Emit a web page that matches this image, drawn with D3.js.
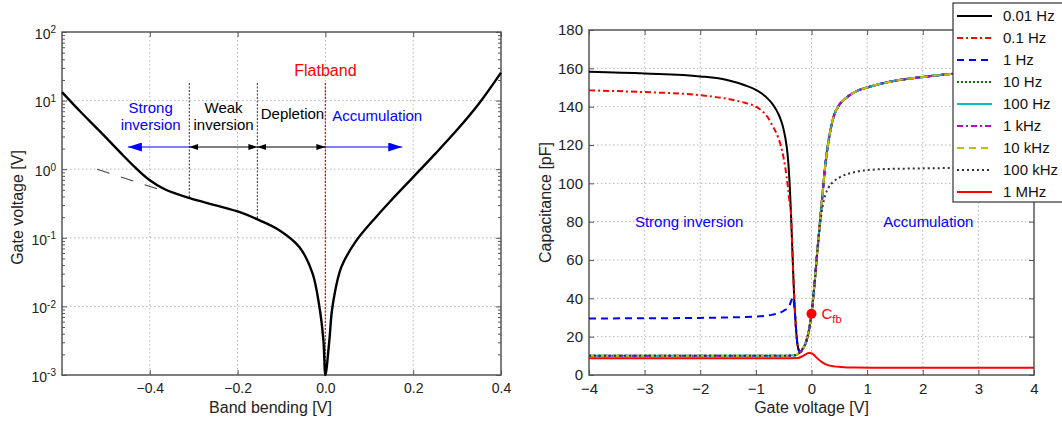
<!DOCTYPE html>
<html>
<head>
<meta charset="utf-8">
<script src="https://cdn.jsdelivr.net/npm/d3@7"></script>
<style>
  html, body { margin: 0; padding: 0; background: #fff; }
  svg { display: block; font-family: "Liberation Sans", Arial, sans-serif; }
</style>
</head>
<body>
<svg id="chart" width="1062" height="423"></svg>
<script>
// ─── LEFT PANEL : gate voltage vs band bending ────────────────────────────────
const bendPsi  = [-0.6, -0.559, -0.514, -0.468, -0.434, -0.4, -0.366, -0.309, -0.252, -0.195, -0.15, -0.105, -0.059, -0.0295, -0.0136, -0.0045, 0,
                  0.009, 0.016, 0.036, 0.07, 0.116, 0.15, 0.2, 0.25, 0.3, 0.35, 0.4];
const bendGate = [13.3, 7.0, 3.58, 1.77, 1.07, 0.69, 0.51, 0.378, 0.30, 0.236, 0.18, 0.129, 0.073, 0.0305, 0.0098, 0.0032, 0.001,
                  0.0032, 0.0098, 0.037, 0.09, 0.203, 0.353, 0.767, 1.67, 3.75, 9.1, 25.6];
const asymPsi  = [-0.52, -0.38];
const asymGate = [1.0, 0.51];
const leftXTicks = [-0.4, -0.2, 0, 0.2, 0.4];
const leftYTicks = [1e-3, 1e-2, 1e-1, 1e0, 1e1, 1e2];
const regionMarks = [-0.31, -0.155, 0];   // weak inv. start, depletion start, flatband

// ─── RIGHT PANEL : C-V curves ────────────────────────────────────────────────
const accV = [-0.15, -0.1, 0, 0.05, 0.1, 0.15, 0.2, 0.25, 0.3, 0.35, 0.4, 0.5, 0.6, 0.8, 1.0, 1.5, 2, 2.5, 3, 4];
const accC = [14, 17, 32, 46, 63, 79, 95, 110, 121, 129, 135, 141, 144, 148, 150, 153.5, 155.5, 157, 157.8, 158.8];

const v001  = [-4, -3, -2, -1.5, -1.2, -1, -0.9, -0.8, -0.7, -0.6, -0.55, -0.5, -0.45, -0.42, -0.39, -0.37, -0.35, -0.33, -0.31, -0.29, -0.27, -0.25, -0.22, -0.2];
const c001  = [158.2, 157.3, 155.8, 153.8, 151.2, 148.8, 147, 144.6, 141.3, 136.5, 133, 128, 120, 112, 98, 85, 70, 54, 40, 29, 21, 15.5, 12.5, 12];
const v01   = [-4, -3, -2, -1.5, -1.2, -1, -0.9, -0.8, -0.7, -0.6, -0.55, -0.5, -0.45, -0.42, -0.39, -0.37, -0.35, -0.33, -0.31, -0.29, -0.27, -0.25, -0.22, -0.2];
const c01   = [148.5, 147.6, 146, 144, 142, 140, 138, 135, 130, 124, 119.5, 113, 104, 97, 89, 85, 70, 54, 40, 29, 21, 15.5, 12.5, 12];
const v1    = [-4, -3, -2, -1, -0.7, -0.5, -0.4, -0.36, -0.33, -0.31, -0.29, -0.27, -0.25, -0.22, -0.2];
const c1    = [29.5, 29.6, 29.8, 30.5, 31.5, 33.5, 36, 39, 40.5, 36, 29, 21, 15.5, 12.5, 12];
const vHigh = [-4, -2, -0.5, -0.3, -0.22];
const cHigh = [10, 10, 10, 10.3, 11.5];
const v100k = [-4, -2, -0.5, -0.3, -0.22, -0.15, -0.1, 0, 0.05, 0.1, 0.15, 0.2, 0.25, 0.3, 0.4, 0.5, 0.8, 1.2, 2, 2.5, 3, 4];
const c100k = [10, 10, 10, 10.3, 11.5, 14, 17, 32, 46, 63, 78, 88, 94, 97.5, 101, 103, 106, 107.3, 107.8, 108, 108.3, 108.5];
const v1M   = [-4, -2, -0.5, -0.25, -0.15, -0.05, 0, 0.05, 0.1, 0.2, 0.28, 0.4, 0.52, 0.8, 1.5, 4];
const c1M   = [8.8, 8.8, 8.8, 8.9, 10, 11.5, 11.4, 10.3, 8.8, 6.5, 5.3, 4.5, 4.2, 3.9, 3.8, 3.8];

const freqLabels = ["0.01 Hz", "0.1 Hz", "1 Hz", "10 Hz", "100 Hz", "1 kHz", "10 kHz", "100 kHz", "1 MHz"];
const freqColors = ["#000000", "#ff0000", "#0000ff", "#008000", "#00bfbf", "#bf00bf", "#bfbf00", "#333333", "#ff0000"];
const freqDashes = [null, "6,3,2,3", "7,5", "2,2", null, "6,3,2,3", "7,5", "2,3", null];
const rightXTicks = [-4, -3, -2, -1, 0, 1, 2, 3, 4];
const rightYTicks = [0, 20, 40, 60, 80, 100, 120, 140, 160, 180];
const cfbPoint = [0, 32];

// helpers
const zip = (xs, ys) => xs.map((x, i) => [x, ys[i]]);
const withAcc = (xs, ys) => zip(xs, ys).concat(zip(accV, accC));

const svg = d3.select("#chart");
const axisColor = "#555";
const gridColor = "#b5b5b5";

function styleAxis(g) {
    g.select(".domain").remove();
    g.selectAll(".tick line").attr("stroke", axisColor);
    g.selectAll("text").attr("fill", "#222").style("font-size", "14px");
}

function frame(x0, x1, y0, y1) {
    svg.append("rect")
        .attr("x", x0).attr("y", y0)
        .attr("width", x1 - x0).attr("height", y1 - y0)
        .attr("fill", "none").attr("stroke", axisColor).attr("stroke-width", 1.5);
}

// ─── LEFT PANEL ──────────────────────────────────────────────────────────────
const L = { left: 62, right: 501, top: 32, bottom: 375 };
const xL = d3.scaleLinear().domain([-0.6, 0.4]).range([L.left, L.right]);
const yL = d3.scaleLog().domain([1e-3, 1e2]).range([L.bottom, L.top]);

// grid
svg.append("g").selectAll("line.gx").data(leftXTicks.slice(0, -1)).enter().append("line")
    .attr("x1", d => xL(d)).attr("x2", d => xL(d)).attr("y1", L.top).attr("y2", L.bottom)
    .attr("stroke", gridColor).attr("stroke-dasharray", "1.5,2.5");
svg.append("g").selectAll("line.gy").data(leftYTicks.slice(1, -1)).enter().append("line")
    .attr("x1", L.left).attr("x2", L.right).attr("y1", d => yL(d)).attr("y2", d => yL(d))
    .attr("stroke", gridColor).attr("stroke-dasharray", "1.5,2.5");

// minor log ticks
const minorL = [];
leftYTicks.slice(0, -1).forEach(dec => { for (let k = 2; k <= 9; k++) minorL.push(dec * k); });

svg.append("g").attr("transform", `translate(${L.left},0)`)
    .call(d3.axisLeft(yL).tickValues(minorL).tickSizeInner(-3).tickSizeOuter(0).tickFormat(""))
    .call(styleAxis);
svg.append("g").attr("transform", `translate(${L.right},0)`)
    .call(d3.axisRight(yL).tickValues(minorL).tickSizeInner(-3).tickSizeOuter(0).tickFormat(""))
    .call(styleAxis);
svg.append("g").attr("transform", `translate(${L.right},0)`)
    .call(d3.axisRight(yL).tickValues(leftYTicks).tickSizeInner(-5).tickSizeOuter(0).tickFormat(""))
    .call(styleAxis);

// major y axis with 10^n labels
svg.append("g").attr("transform", `translate(${L.left},0)`)
    .call(d3.axisLeft(yL).tickValues(leftYTicks).tickSizeInner(-5).tickSizeOuter(0).tickPadding(6).tickFormat(""))
    .call(styleAxis)
    .call(g => g.selectAll(".tick text").each(function (d) {
        const t = d3.select(this).attr("dy", "0.45em");
        t.append("tspan").text("10");
        t.append("tspan").attr("dy", "-0.55em").style("font-size", "10px")
            .text(String(Math.round(Math.log10(d))));
    }));

svg.append("g").attr("transform", `translate(0,${L.bottom})`)
    .call(d3.axisBottom(xL).tickValues(leftXTicks).tickSizeInner(-5).tickSizeOuter(0).tickPadding(8)
        .tickFormat(d => d3.format(".1f")(d).replace("-", "\u2212")))
    .call(styleAxis);
svg.append("g").attr("transform", `translate(0,${L.top})`)
    .call(d3.axisTop(xL).tickValues(leftXTicks).tickSizeInner(-5).tickSizeOuter(0).tickFormat(""))
    .call(styleAxis);

frame(L.left, L.right, L.top, L.bottom);

// region separators
svg.append("g").selectAll("line.sep").data(regionMarks).enter().append("line")
    .attr("x1", d => xL(d)).attr("x2", d => xL(d))
    .attr("y1", 83).attr("y2", (d, i) => i === 2 ? L.bottom : (i === 0 ? 198 : 218))
    .attr("stroke", (d, i) => i === 2 ? "#ff0000" : "#333")
    .attr("stroke-width", (d, i) => i === 2 ? 1.3 : 1)
    .attr("stroke-dasharray", "2,1.5");

// asymptote + curve
svg.append("path")
    .datum(zip(asymPsi, asymGate))
    .attr("fill", "none").attr("stroke", "#444").attr("stroke-width", 1.2)
    .attr("stroke-dasharray", "13,12")
    .attr("d", d3.line().x(d => xL(d[0])).y(d => yL(d[1])));

svg.append("path")
    .datum(zip(bendPsi, bendGate))
    .attr("fill", "none").attr("stroke", "#000").attr("stroke-width", 2.4)
    .attr("d", d3.line().x(d => xL(d[0])).y(d => yL(d[1])).curve(d3.curveCatmullRom.alpha(0.5)));

// arrows
const defs = svg.append("defs");
function marker(id, color, w, h) {
    defs.append("marker").attr("id", id)
        .attr("viewBox", `0 0 ${w} ${h}`).attr("refX", w).attr("refY", h / 2)
        .attr("markerWidth", w).attr("markerHeight", h).attr("markerUnits", "userSpaceOnUse")
        .attr("orient", "auto-start-reverse")
        .append("path").attr("d", `M0,0L${w},${h / 2}L0,${h}Z`).attr("fill", color);
}
marker("ablue", "#0000ff", 14, 9);
marker("ablack", "#000", 9, 6);

const arrowY = 147;
const arrows = [
    { from: regionMarks[0], to: -0.45, color: "#0000ff", m: "ablue", both: false },
    { from: regionMarks[0], to: regionMarks[1], color: "#000", m: "ablack", both: true },
    { from: regionMarks[1], to: regionMarks[2], color: "#000", m: "ablack", both: true },
    { from: regionMarks[2], to: 0.175, color: "#0000ff", m: "ablue", both: false }
];
arrows.forEach(a => {
    const ln = svg.append("line")
        .attr("x1", xL(a.from)).attr("x2", xL(a.to)).attr("y1", arrowY).attr("y2", arrowY)
        .attr("stroke", a.color).attr("stroke-width", 1)
        .attr("marker-end", `url(#${a.m})`);
    if (a.both) ln.attr("marker-start", `url(#${a.m})`);
});

function label(x, y, lines, color, size, anchor) {
    const t = svg.append("text").attr("x", x).attr("y", y)
        .attr("text-anchor", anchor || "middle").attr("fill", color).style("font-size", size + "px");
    lines.forEach((s, i) => t.append("tspan").attr("x", x).attr("dy", i === 0 ? 0 : "1.1em").text(s));
    return t;
}
label(xL(-0.398), 113, ["Strong", "inversion"], "#0000ff", 15);
label(xL(-0.232), 113, ["Weak", "inversion"], "#000", 15);
label(xL(-0.075), 119, ["Depletion"], "#000", 15);
label(xL(0.118), 121, ["Accumulation"], "#0000ff", 15);
label(xL(0), 76, ["Flatband"], "#ff0000", 16);

label((L.left + L.right) / 2 - 11, 413, ["Band bending [V]"], "#222", 16);
svg.append("text").attr("transform", `translate(23,${(L.top + L.bottom) / 2 + 4}) rotate(-90)`)
    .attr("text-anchor", "middle").attr("fill", "#222").style("font-size", "16px").text("Gate voltage [V]");

// ─── RIGHT PANEL ─────────────────────────────────────────────────────────────
const R = { left: 589, right: 1034, top: 30, bottom: 375 };
const xR = d3.scaleLinear().domain([-4, 4]).range([R.left, R.right]);
const yR = d3.scaleLinear().domain([0, 180]).range([R.bottom, R.top]);

svg.append("g").selectAll("line.rgx").data(rightXTicks.slice(1, -1)).enter().append("line")
    .attr("x1", d => xR(d)).attr("x2", d => xR(d)).attr("y1", R.top).attr("y2", R.bottom)
    .attr("stroke", gridColor).attr("stroke-dasharray", "1.5,2.5");
svg.append("g").selectAll("line.rgy").data(rightYTicks.slice(1, -1)).enter().append("line")
    .attr("x1", R.left).attr("x2", R.right).attr("y1", d => yR(d)).attr("y2", d => yR(d))
    .attr("stroke", gridColor).attr("stroke-dasharray", "1.5,2.5");

svg.append("g").attr("transform", `translate(${R.left},0)`)
    .call(d3.axisLeft(yR).tickValues(rightYTicks).tickSizeInner(-5).tickSizeOuter(0).tickPadding(6))
    .call(styleAxis)
    .call(g => g.selectAll("text").style("font-size", "15px"));
svg.append("g").attr("transform", `translate(${R.right},0)`)
    .call(d3.axisRight(yR).tickValues(rightYTicks).tickSizeInner(-5).tickSizeOuter(0).tickFormat(""))
    .call(styleAxis);
svg.append("g").attr("transform", `translate(0,${R.bottom})`)
    .call(d3.axisBottom(xR).tickValues(rightXTicks).tickSizeInner(-5).tickSizeOuter(0).tickPadding(8)
        .tickFormat(d => String(d).replace("-", "\u2212")))
    .call(styleAxis)
    .call(g => g.selectAll("text").style("font-size", "15px"));
svg.append("g").attr("transform", `translate(0,${R.top})`)
    .call(d3.axisTop(xR).tickValues(rightXTicks).tickSizeInner(-5).tickSizeOuter(0).tickFormat(""))
    .call(styleAxis);

frame(R.left, R.right, R.top, R.bottom);

const seriesData = [
    withAcc(v001, c001),
    withAcc(v01, c01),
    withAcc(v1, c1),
    withAcc(vHigh, cHigh),
    withAcc(vHigh, cHigh),
    withAcc(vHigh, cHigh),
    withAcc(vHigh, cHigh),
    zip(v100k, c100k),
    zip(v1M, c1M)
];

const lineR = d3.line().x(d => xR(d[0])).y(d => yR(d[1])).curve(d3.curveMonotoneX);
svg.append("g").selectAll("path.cv").data(seriesData).enter().append("path")
    .attr("fill", "none")
    .attr("stroke", (d, i) => freqColors[i])
    .attr("stroke-width", 2)
    .attr("stroke-dasharray", (d, i) => freqDashes[i])
    .attr("d", lineR);

svg.append("circle").attr("cx", xR(cfbPoint[0])).attr("cy", yR(cfbPoint[1])).attr("r", 5).attr("fill", "#ff0000");
const cfb = svg.append("text").attr("x", xR(cfbPoint[0]) + 10).attr("y", yR(cfbPoint[1]) + 5)
    .attr("fill", "#ff0000").style("font-size", "15px");
cfb.append("tspan").text("C");
cfb.append("tspan").attr("dy", "0.35em").style("font-size", "11px").text("fb");

label(xR(-2.2), 227, ["Strong inversion"], "#0000ff", 15);
label(xR(2.1), 227, ["Accumulation"], "#0000ff", 15);

label((R.left + R.right) / 2, 413, ["Gate voltage [V]"], "#222", 16);
svg.append("text").attr("transform", `translate(551,${(R.top + R.bottom) / 2}) rotate(-90)`)
    .attr("text-anchor", "middle").attr("fill", "#222").style("font-size", "16px").text("Capacitance [pF]");

// legend
const legend = svg.append("g").attr("transform", "translate(953,3)");
legend.append("rect").attr("width", 130).attr("height", 199)
    .attr("fill", "#fff").attr("stroke", "#333").attr("stroke-width", 1.2);
freqLabels.forEach((lab, i) => {
    const y = 13 + i * 22;
    legend.append("line").attr("x1", 4).attr("x2", 39).attr("y1", y).attr("y2", y)
        .attr("stroke", freqColors[i]).attr("stroke-width", 2)
        .attr("stroke-dasharray", freqDashes[i]);
    legend.append("text").attr("x", 50).attr("y", y + 5).attr("fill", "#111")
        .style("font-size", "15px").text(lab);
});
</script>
</body>
</html>
